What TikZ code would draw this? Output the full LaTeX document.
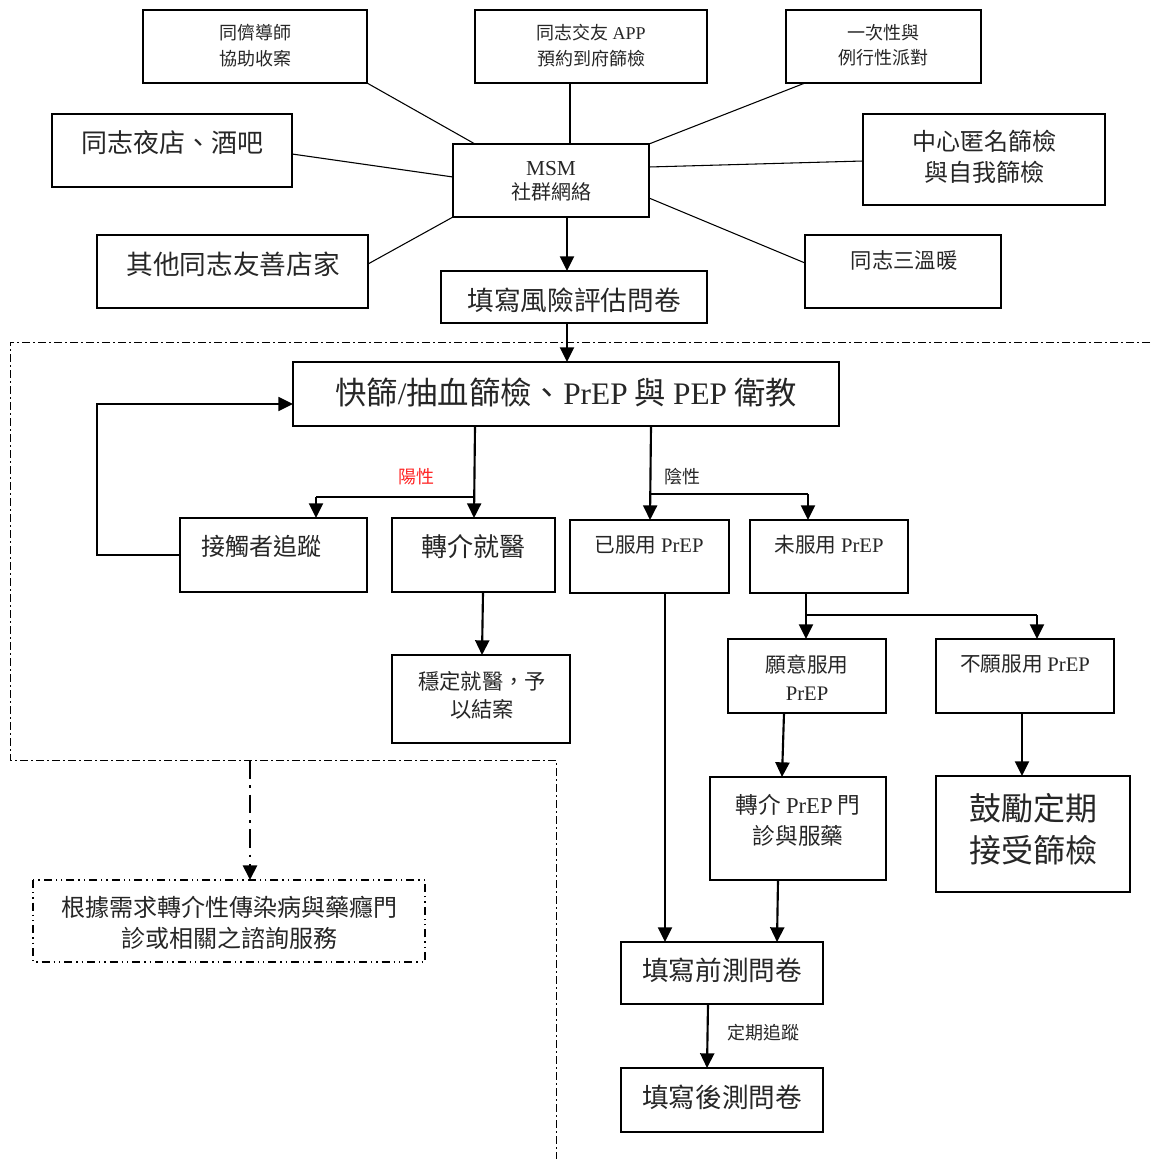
\documentclass[tikz,border=0pt]{standalone}
\usepackage{fontspec}
\setmainfont{Noto Sans CJK TC}
\newfontfamily\lat{Liberation Serif}
\usetikzlibrary{arrows.meta,calc}
\newcommand\fsz[2]{\fontsize{#1}{#2}\selectfont}
\newcommand\bx[6][]{\node[boxst,#1, minimum width={(#5-#3)*0.75pt}, minimum height={(#6-#4)*0.75pt}] (#2) at ({(#3+#5)/2},{(#4+#6)/2}) {};}
\begin{document}
\begin{tikzpicture}[x=0.75pt,y=-0.75pt,
  boxst/.style={draw, line width=1.5pt, inner sep=0pt, outer sep=0pt},
  txt/.style={inner sep=0pt, align=center, text=black!85},
  thinln/.style={line width=0.8pt},
  brln/.style={line width=1pt},
  arr/.style={line width=1.6pt, -{Triangle[length=11pt,width=10.5pt]}},
  regionst/.style={line width=0.7pt, dash pattern=on 6pt off 2.5pt on 1pt off 2.5pt},
  svcst/.style={line width=1.1pt, dash pattern=on 6pt off 3pt on 1pt off 3pt on 1pt off 3pt},
  dasharr/.style={line width=2pt, dash pattern=on 14pt off 5pt on 2pt off 5pt, -{Triangle[length=11pt,width=10.5pt]}}]
\useasboundingbox (0,0) rectangle (1150,1159);
% boxes
\bx{b1}{143}{10}{367}{83}
\bx{b2}{475}{10}{707}{83}
\bx{b3}{786}{10}{981}{83}
\bx{b4}{52}{114}{292}{187}
\bx{b5}{863}{114}{1105}{205}
\bx{msm}{453}{144}{649}{217}
\bx{b6}{97}{235}{368}{308}
\bx{b7}{805}{235}{1001}{308}
\bx{risk}{441}{271}{707}{323}
\bx{scr}{293}{362}{839}{426}
\bx{ct}{180}{518}{367}{592}
\bx{ref}{392}{518}{555}{592}
\bx{on}{570}{520}{729}{593}
\bx{off}{750}{520}{908}{593}
\bx{stab}{392}{655}{570}{743}
\bx{will}{728}{639}{886}{713}
\bx{nowill}{936}{639}{1114}{713}
\bx{clinic}{710}{777}{886}{880}
\bx{enc}{936}{776}{1130}{892}
\bx{pre}{621}{942}{823}{1004}
\bx{post}{621}{1068}{823}{1132}
\bx[draw=none]{svc}{33}{880}{425}{962}
\draw[svcst] (svc.north west) rectangle (svc.south east);
% texts
\node[txt, font=\fsz{13.5}{19}] (t1) at (255,45.5) {同儕導師\\協助收案};
\node[txt, font=\fsz{13.5}{19}] (t2) at (591,45.5) {同志交友 {\lat APP}\\預約到府篩檢};
\node[txt, font=\fsz{13.5}{19}] (t3) at (883,45.5) {一次性與\\例行性派對};
\node[txt, font=\fsz{19.5}{24}] (t4) at (172,143) {同志夜店、酒吧};
\node[txt, font=\fsz{18}{23.5}] (t5) at (984,156.5) {中心匿名篩檢\\與自我篩檢};
\node[txt, font=\fsz{15}{18}] (t6) at (551,181) {{\lat\fontsize{16}{18}\selectfont MSM}\\社群網絡};
\node[txt, font=\fsz{20}{24}] (t7) at (233,264) {其他同志友善店家};
\node[txt, font=\fsz{16}{20}] (t8) at (904,260) {同志三溫暖};
\node[txt, font=\fsz{20}{24}] (t9) at (574,300) {填寫風險評估問卷};
\node[txt, font=\fsz{23.5}{26}] (t10) at (566,393) {快篩{\lat /}抽血篩檢、{\lat PrEP} 與 {\lat PEP} 衛教};
\node[txt, font=\fsz{13.5}{16}, text=red!85] (t11) at (416,477) {陽性};
\node[txt, font=\fsz{13.5}{16}] (t12) at (682,477) {陰性};
\node[txt, font=\fsz{18}{22}] (t13) at (261,546) {接觸者追蹤};
\node[txt, font=\fsz{19.5}{23}] (t14) at (473,547) {轉介就醫};
\node[txt, font=\fsz{15.5}{19}] (t15) at (649,545) {已服用 {\lat PrEP}};
\node[txt, font=\fsz{15.5}{19}] (t16) at (829,545) {未服用 {\lat PrEP}};
\node[txt, font=\fsz{16}{21}] (t17) at (482,695) {穩定就醫，予\\以結案};
\node[txt, font=\fsz{15.5}{21}] (t18) at (807,678) {願意服用\\{\lat PrEP}};
\node[txt, font=\fsz{15.5}{19}] (t19) at (1025,664) {不願服用 {\lat PrEP}};
\node[txt, font=\fsz{17}{23.5}] (t20) at (798,820.5) {轉介 {\lat PrEP} 門\\診與服藥};
\node[txt, font=\fsz{24}{31.5}] (t21) at (1033,829) {鼓勵定期\\接受篩檢};
\node[txt, font=\fsz{18}{23.5}] (t22) at (229,922.5) {根據需求轉介性傳染病與藥癮門\\診或相關之諮詢服務};
\node[txt, font=\fsz{20}{24}] (t23) at (722,970) {填寫前測問卷};
\node[txt, font=\fsz{20}{24}] (t24) at (722,1097) {填寫後測問卷};
\node[txt, font=\fsz{13.5}{16}] (t25) at (763,1033) {定期追蹤};
% spokes
\draw[thinln] (b1.south east) -- ($(msm.north west)+(22,0)$);
\draw[thinln] ($(b2.south west)+(95,0)$) -- ($(msm.north west)+(117,0)$);
\draw[thinln] ($(b3.south west)+(19,0)$) -- (msm.north east);
\draw[thinln] ($(b4.north east)+(0,40)$) -- ($(msm.north west)+(0,33)$);
\draw[thinln] ($(b5.north west)+(0,47)$) -- ($(msm.north east)+(0,23)$);
\draw[thinln] ($(b6.north east)+(0,29)$) -- (msm.south west);
\draw[thinln] ($(b7.north west)+(0,28)$) -- ($(msm.north east)+(0,54)$);
% main arrows
\draw[arr] ($(msm.south west)+(114,0)$) -- ($(risk.north west)+(126,0)$);
\draw[arr] ($(risk.south west)+(126,0)$) -- ($(scr.north west)+(274,0)$);
\draw[arr] ($(scr.south west)+(182,0)$) -- ($(ref.north west)+(82,0)$);
\draw[brln] ($(ref.north west)+(82,-21)$) -- ($(ct.north west)+(136,-21)$);
\draw[arr] ($(ct.north west)+(136,-21)$) -- ($(ct.north west)+(136,0)$);
\draw[arr] ($(scr.south west)+(358,0)$) -- ($(on.north west)+(80,0)$);
\draw[brln] ($(on.north west)+(80,-26)$) -- ($(off.north west)+(58,-26)$);
\draw[arr] ($(off.north west)+(58,-26)$) -- ($(off.north west)+(58,0)$);
\draw[arr, line width=1.3pt] (ct.west) -- ++(-83,0) |- ($(scr.west)+(0,10)$);
\draw[arr] ($(ref.south west)+(91,0)$) -- ($(stab.north west)+(90,0)$);
\draw[arr] ($(off.south west)+(56,0)$) -- ($(will.north west)+(78,0)$);
\draw[brln] ($(off.south west)+(56,22)$) -- ($(nowill.north west)+(101,-24)$);
\draw[arr] ($(nowill.north west)+(101,-24)$) -- ($(nowill.north west)+(101,0)$);
\draw[arr] ($(on.south west)+(95,0)$) -- ($(pre.north west)+(44,0)$);
\draw[arr] ($(will.south west)+(56,0)$) -- ($(clinic.north west)+(72,0)$);
\draw[arr] ($(nowill.south west)+(86,0)$) -- ($(enc.north west)+(86,0)$);
\draw[arr] ($(clinic.south west)+(68,0)$) -- ($(pre.north west)+(156,0)$);
\draw[arr] ($(pre.south west)+(87,0)$) -- ($(post.north west)+(86,0)$);
% region boundary
\draw[regionst] (1150,342) -- (10,342) -- (10,760) -- (556,760) -- (556,1159);
\coordinate (rg) at (250,760);
\draw[dasharr] (rg) -- ($(svc.north west)+(217,0)$);
\end{tikzpicture}
\end{document}
